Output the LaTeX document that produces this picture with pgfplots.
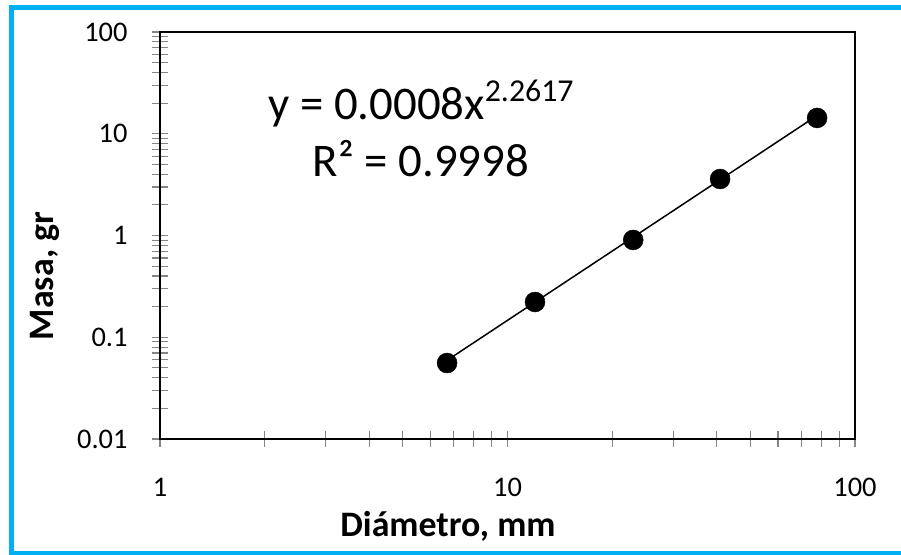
\documentclass[border=0pt]{standalone}
\usepackage{fontspec}
\setmainfont{Carlito}
\usepackage{pgfplots}
\pgfplotsset{compat=1.18}
\definecolor{framecyan}{HTML}{00B0F0}
\definecolor{tickgray}{HTML}{868686}

\begin{document}
\begin{tikzpicture}[x=1bp,y=1bp]
\useasboundingbox (0,0) rectangle (901,555);
\fill[white] (0,0) rectangle (901,555);
% outer chart frame
\begin{scope}
\clip (0,0) rectangle (901,555);
\draw[framecyan, line width=5bp] (11.5,1.5) rectangle (910,547.5);
\end{scope}
\begin{axis}[
  at={(160bp,116bp)}, anchor=south west,
  scale only axis, width=695bp, height=407bp,
  xmode=log, ymode=log,
  xmin=1, xmax=100, ymin=0.01, ymax=100,
  axis line style={line width=2bp},
  tick style={tickgray, line width=1.2bp},
  major tick length=16bp, minor tick length=16bp,
  tick align=center,
  xtick={1,10,100}, ytick={0.01,0.1,1,10,100},
  xticklabels={1,10,100}, yticklabels={0.01,0.1,1,10,100},
  xtick pos=bottom, ytick pos=left,
  ticklabel style={font=\fontsize{28.5}{30}\selectfont},
  xticklabel style={yshift=-28bp},
  yticklabel style={xshift=-21bp},
  clip=false,
]
% fitted power law y = 0.0008 x^2.2617, drawn between the end points
\addplot[black, line width=1.5bp, no marks] coordinates {(6.7,0.0593) (77.8,15.1)};
% measured samples
\addplot[only marks, mark=*, mark size=10bp, black] coordinates {
  (6.7,0.0558) (12.0,0.222) (23.0,0.904) (40.9,3.59) (77.8,14.3)
};
\end{axis}
% trend line equation
\node[anchor=base, inner sep=0] at (421,435) {\fontsize{47}{50}\selectfont y = 0.0008x\raisebox{0.4em}{\fontsize{32}{34}\selectfont 2.2617}};
\node[anchor=base, inner sep=0] at (421,378) {\fontsize{47}{50}\selectfont R² = 0.9998};
% axis titles
\node[anchor=base, inner sep=0] at (448,18) {\fontsize{36}{38}\selectfont\bfseries Diámetro, mm};
\node[anchor=base, inner sep=0, rotate=90] at (53,279) {\fontsize{36}{38}\selectfont\bfseries Masa, gr};
\end{tikzpicture}
\end{document}
